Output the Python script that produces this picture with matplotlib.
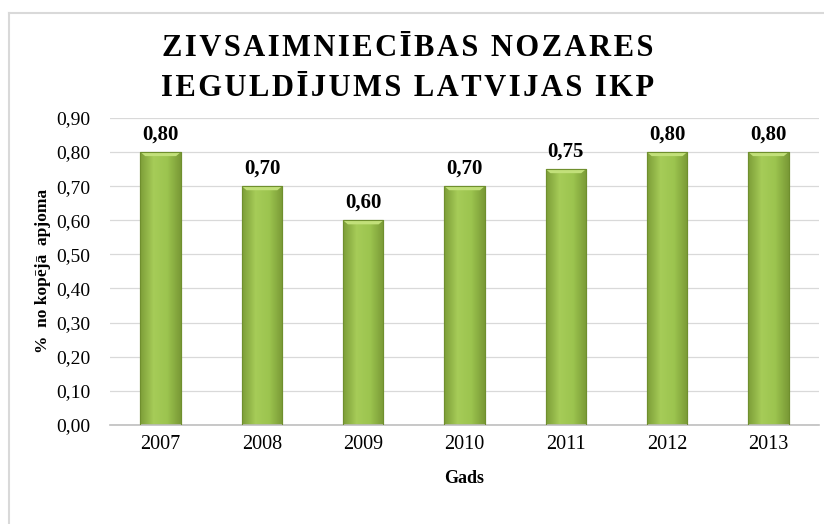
import numpy as np
import matplotlib
matplotlib.use("Agg")
import matplotlib.pyplot as plt
from matplotlib.colors import LinearSegmentedColormap
from matplotlib.lines import Line2D

years = ["2007", "2008", "2009", "2010", "2011", "2012", "2013"]
share = [0.80, 0.70, 0.60, 0.70, 0.75, 0.80, 0.80]
yticks = [0.0, 0.1, 0.2, 0.3, 0.4, 0.5, 0.6, 0.7, 0.8, 0.9]
title_lines = ["ZIVSAIMNIECĪBAS NOZARES", "IEGULDĪJUMS LATVIJAS IKP"]

plt.rcParams["font.family"] = ["Liberation Serif", "DejaVu Serif"]


def spaced(s):
    # rough letter spacing with hair spaces
    return "\u200a \u200a".join("\u200a".join(word) for word in s.split(" "))


fig = plt.figure(figsize=(8.24, 5.24), dpi=100)
ax = fig.add_axes([0.1335, 0.189, 0.8605, 0.586])

x = np.arange(len(years))
bars = ax.bar(x, share, width=0.4, color="#96bd4a", edgecolor="#6f8f2e", lw=0.8, zorder=2)

# horizontal shading inside each bar
cmap = LinearSegmentedColormap.from_list("g", ["#7d9e38", "#a6cc58", "#9cc44f", "#7a9a36"])
grad = np.linspace(0, 1, 64).reshape(1, -1)
for b in bars:
    x0, w, h = b.get_x(), b.get_width(), b.get_height()
    im = ax.imshow(grad, extent=[x0, x0 + w, 0, h], cmap=cmap, aspect="auto", zorder=2.5)
    im.set_clip_path(b)
    # bevel at top
    ax.fill([x0, x0 + w, x0 + w * 0.88, x0 + w * 0.12], [h, h, h - 0.012, h - 0.012],
            color="#c2e07a", zorder=2.6, lw=0)
    ax.bar(b.get_x() + w / 2, h, width=w, fill=False, edgecolor="#6f8f2e", lw=0.8, zorder=2.7)

for xi, v in zip(x, share):
    ax.text(xi, v + 0.022, f"{v:.2f}".replace(".", ","), ha="center", va="bottom",
            fontsize=15, fontweight="bold")

ax.set_xlim(-0.5, len(years) - 0.5)
ax.set_ylim(0, 0.9)
ax.set_yticks(yticks)
ax.set_yticklabels([f"{t:.2f}".replace(".", ",") for t in yticks], fontsize=14)
ax.set_xticks(x)
ax.set_xticklabels(years, fontsize=14.5)
ax.tick_params(length=0, pad=7)
ax.tick_params(axis="y", pad=14)
ax.grid(axis="y", color="#d9d9d9", lw=0.9, zorder=0)
ax.set_axisbelow(True)
for s in ["top", "right", "left"]:
    ax.spines[s].set_visible(False)
ax.spines["bottom"].set_color("#bfbfbf")
ax.spines["bottom"].set_linewidth(1.2)

ax.set_xlabel("Gads", fontsize=13, fontweight="bold", labelpad=12)
ax.set_ylabel("%  no kopējā  apjoma", fontsize=12.5, fontweight="bold", labelpad=4)

fig.text(0.495, 0.908, spaced(title_lines[0]), ha="center", va="center",
         fontsize=22, fontweight="bold")
fig.text(0.495, 0.832, spaced(title_lines[1]), ha="center", va="center",
         fontsize=22, fontweight="bold")

# chart border (top and left visible)
fig.add_artist(Line2D([9 / 824, 1], [1 - 13 / 524] * 2, color="#d9d9d9", lw=1.5))
fig.add_artist(Line2D([9 / 824] * 2, [0, 1 - 13 / 524], color="#d9d9d9", lw=1.5))

fig.savefig("out.png", dpi=100)
